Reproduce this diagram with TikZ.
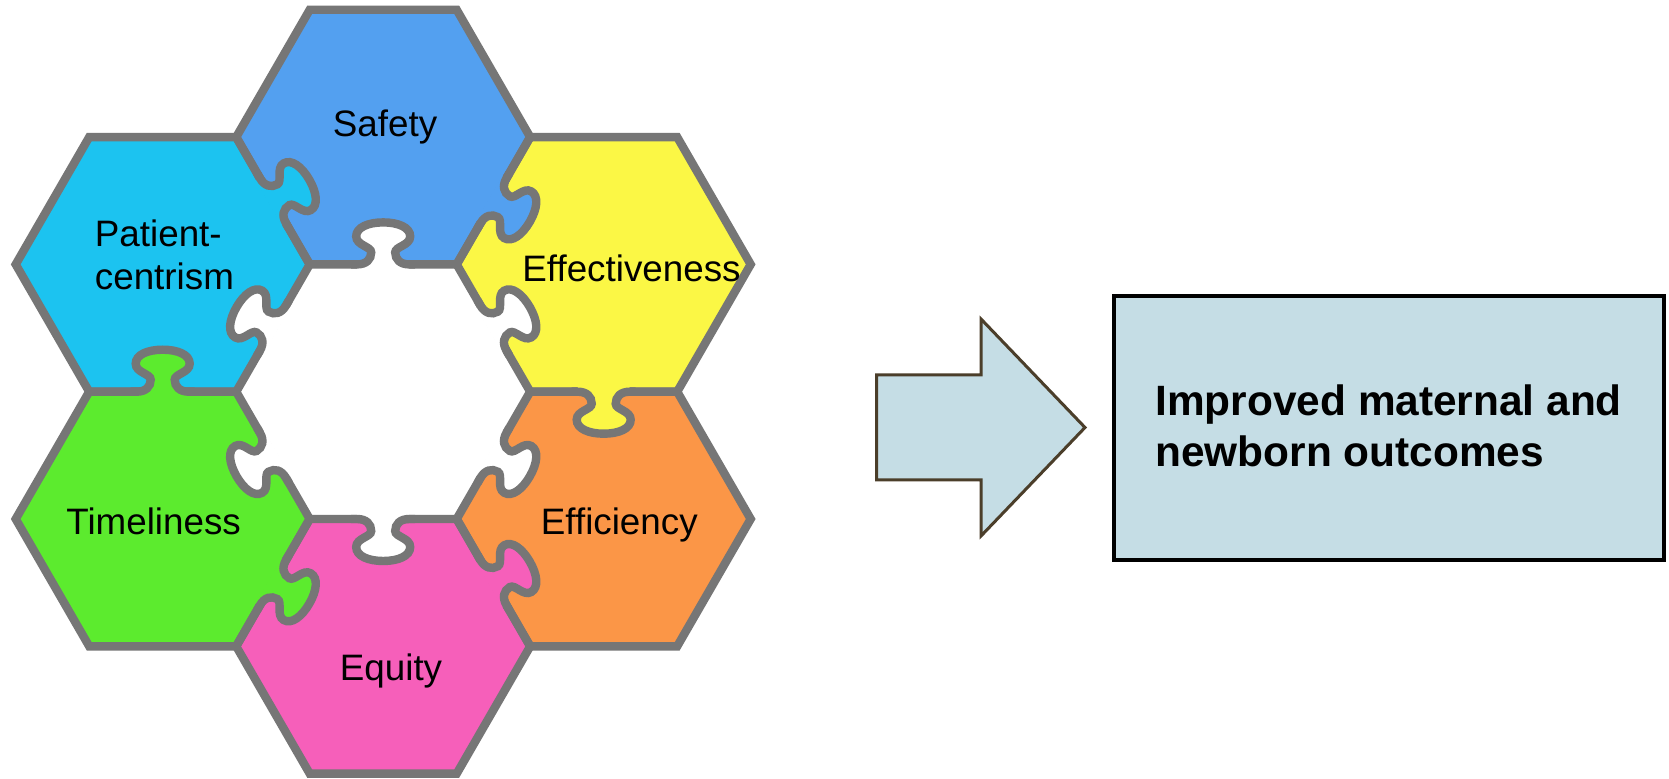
\documentclass[tikz,border=0pt]{standalone}
\usepackage{fontspec}
\setmainfont{Liberation Sans}
\definecolor{pzgray}{RGB}{118,118,118}
\definecolor{cSafety}{RGB}{83,160,240}
\definecolor{cPatient}{RGB}{28,195,240}
\definecolor{cEffect}{RGB}{251,247,69}
\definecolor{cEffic}{RGB}{251,150,71}
\definecolor{cEquity}{RGB}{246,95,186}
\definecolor{cTime}{RGB}{92,235,46}
\definecolor{boxfill}{RGB}{197,221,229}
\definecolor{arrowline}{RGB}{75,62,42}
\tikzset{
  pzline/.style={draw=pzgray, line width=4.2pt, line join=miter},
  pzlabel/.style={inner sep=0pt, font=\fontsize{18.4}{21.25}\selectfont, text=black},
}
\newcommand{\pzhexfill}[2]{%
  \fill[#2] (#1) ++(0:147) -- ++(120:147) -- ++(180:147) -- ++(240:147) -- ++(300:147) -- ++(0:147) -- cycle;}
\newcommand{\pzhexdraw}[1]{%
  \draw[pzline] (#1) ++(0:147) -- ++(120:147) -- ++(180:147) -- ++(240:147) -- ++(300:147) -- ++(0:147) -- cycle;}
\newcommand{\pzknobfill}[3]{%
  \begin{scope}[shift={(#1)}, rotate=-#2]
    \fill[#3] (-26,-5) -- (-26,0) .. controls (-17,0) and (-12,5) .. (-12,12)
      .. controls (-12,18) and (-27,19) .. (-27,28)
      .. controls (-27,37) and (-15,42) .. (0,42)
      .. controls (15,42) and (27,37) .. (27,28)
      .. controls (27,19) and (12,18) .. (12,12)
      .. controls (12,5) and (17,0) .. (26,0) -- (26,-5) -- cycle;
  \end{scope}}
\newcommand{\pzknobdraw}[2]{%
  \begin{scope}[shift={(#1)}, rotate=-#2]
    \draw[pzline] (-32,0) -- (-26,0) .. controls (-17,0) and (-12,5) .. (-12,12)
      .. controls (-12,18) and (-27,19) .. (-27,28)
      .. controls (-27,37) and (-15,42) .. (0,42)
      .. controls (15,42) and (27,37) .. (27,28)
      .. controls (27,19) and (12,18) .. (12,12)
      .. controls (12,5) and (17,0) .. (26,0) -- (32,0);
  \end{scope}}
\begin{document}
\begin{tikzpicture}[x=0.5pt, y=-0.5pt]
\useasboundingbox (0,0) rectangle (1669,779);
\fill[white] (0,0) rectangle (1669,779);

\begin{scope}[shift={(383.2,391.7)}, yscale=-1]
  \coordinate (safety) at (90:254.6);
  \coordinate (effect) at (30:254.6);
  \coordinate (effic)  at (-30:254.6);
  \coordinate (equity) at (270:254.6);
  \coordinate (time)   at (210:254.6);
  \coordinate (patient) at (150:254.6);
  % fills
  \pzhexfill{safety}{cSafety}
  \pzhexfill{effect}{cEffect}
  \pzhexfill{effic}{cEffic}
  \pzhexfill{equity}{cEquity}
  \pzhexfill{time}{cTime}
  \pzhexfill{patient}{cPatient}
  % outlines
  \pzhexdraw{safety}
  \pzhexdraw{effect}
  \pzhexdraw{effic}
  \pzhexdraw{equity}
  \pzhexdraw{time}
  \pzhexdraw{patient}
  % knob fills: inner (hole) knobs
  \pzknobfill{30:127.3}{-60}{white}
  \pzknobfill{90:127.3}{0}{white}
  \pzknobfill{150:127.3}{60}{white}
  \pzknobfill{210:127.3}{120}{white}
  \pzknobfill{270:127.3}{180}{white}
  \pzknobfill{330:127.3}{240}{white}
  % spoke knobs
  \pzknobfill{0:220.5}{-180}{cEffect}
  \pzknobfill{60:220.5}{-120}{cSafety}
  \pzknobfill{120:220.5}{-60}{cPatient}
  \pzknobfill{180:220.5}{0}{cTime}
  \pzknobfill{240:220.5}{240}{cTime}
  \pzknobfill{300:220.5}{-60}{cEquity}
  % knob strokes
  \pzknobdraw{30:127.3}{-60}
  \pzknobdraw{90:127.3}{0}
  \pzknobdraw{150:127.3}{60}
  \pzknobdraw{210:127.3}{120}
  \pzknobdraw{270:127.3}{180}
  \pzknobdraw{330:127.3}{240}
  \pzknobdraw{0:220.5}{-180}
  \pzknobdraw{60:220.5}{-120}
  \pzknobdraw{120:220.5}{-60}
  \pzknobdraw{180:220.5}{0}
  \pzknobdraw{240:220.5}{240}
  \pzknobdraw{300:220.5}{-60}
\end{scope}

% labels
\node[pzlabel, anchor=base] (lsafety) at (385,137) {Safety};
\node[pzlabel, anchor=base west, align=left] (lpatient) at (94.5,289.5) {Patient-\\centrism};
\node[pzlabel, anchor=base west] (leffect) at (522,281.7) {Effectiveness};
\node[pzlabel, anchor=base west] (ltime) at (66,535) {Timeliness};
\node[pzlabel, anchor=base west] (leffic) at (540.5,535) {Efficiency};
\node[pzlabel, anchor=base] (lequity) at (391,680) {Equity};

% block arrow
\coordinate (a1) at (876.5,375);
\coordinate (a2) at (981,375);
\coordinate (a3) at (981,319);
\coordinate (tip) at (1085,427.5);
\coordinate (a5) at (981,536);
\coordinate (a6) at (981,480);
\coordinate (a7) at (876.5,480);
\draw[draw=arrowline, fill=boxfill, line width=1.5pt, line join=miter]
  (a1) -- (a2) -- (a3) -- (tip) -- (a5) -- (a6) -- (a7) -- cycle;

% outcome box
\node[draw=black, fill=boxfill, line width=2.2pt, minimum width=275pt, minimum height=132pt, inner sep=0pt] (outcome) at (1389,428) {};
\node[inner sep=0pt, anchor=base west, align=left, font=\fontsize{21.2}{25.6}\selectfont\bfseries] (outtext) at (1155,466.7) {Improved maternal and\\newborn outcomes};
\end{tikzpicture}
\end{document}
